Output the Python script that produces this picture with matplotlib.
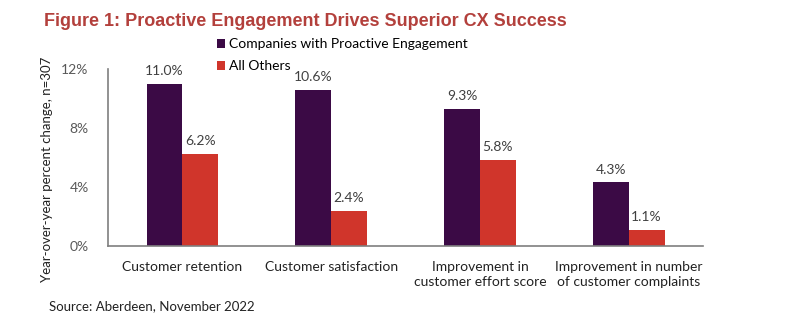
import numpy as np
import matplotlib
matplotlib.use("Agg")
import matplotlib.pyplot as plt

categories = ["Customer retention", "Customer satisfaction",
              "Improvement in\ncustomer effort score",
              "Improvement in number\nof customer complaints"]
proactive = [11.0, 10.6, 9.3, 4.3]
others = [6.2, 2.4, 5.8, 1.1]
series_names = ["Companies with Proactive Engagement", "All Others"]
yticks = [0, 4, 8, 12]

PURPLE = "#3b0a45"
RED = "#d0352b"
GREY = "#595959"

plt.rcParams['font.family'] = ['Lato', 'DejaVu Sans']

fig = plt.figure(figsize=(8, 3.31), dpi=100)
ax = fig.add_axes([0.135, 0.257, 0.744, 0.535])

x = np.arange(len(categories))
w = 0.24
b1 = ax.bar(x - w / 2, proactive, w, color=PURPLE, label=series_names[0])
b2 = ax.bar(x + w / 2, others, w, color=RED, label=series_names[1])

for bars, vals in ((b1, proactive), (b2, others)):
    for r, v in zip(bars, vals):
        ax.annotate(f"{v:.1f}%", (r.get_x() + r.get_width() / 2, v),
                    xytext=(0, 5), textcoords="offset points",
                    ha="center", va="bottom", fontsize=10, color="#404040")

ax.set_xlim(-0.5, 3.5)
ax.set_ylim(0, 12)
ax.set_yticks(yticks)
ax.set_yticklabels([f"{t}%" for t in yticks], color=GREY, fontsize=10)
ax.set_xticks(x)
ax.set_xticklabels(categories, fontsize=10, color="#222222", linespacing=1.25)
ax.tick_params(axis="x", length=0, pad=11)
ax.tick_params(axis="y", length=0, pad=14)
for s in ("top", "right"):
    ax.spines[s].set_visible(False)
for s in ("left", "bottom"):
    ax.spines[s].set_color("#7f7f7f")
    ax.spines[s].set_linewidth(1.2)

ax.set_ylabel("Year-over-year percent change, n=307", fontsize=9.5,
              color="#222222")
ax.yaxis.set_label_coords(-0.092, 0.43)

leg = fig.legend(handles=[b1, b2], loc="upper left",
                 bbox_to_anchor=(0.262, 0.905), frameon=False,
                 fontsize=10, handlelength=0.6, handleheight=0.6,
                 handletextpad=0.3, labelspacing=0.7, borderpad=0)

fig.text(0.055, 0.935, "Figure 1: Proactive Engagement Drives Superior CX Success",
         family="Liberation Sans", fontweight="bold", fontsize=13,
         color="#b3403c", ha="left", va="center")
fig.text(0.061, 0.075, "Source: Aberdeen, November 2022", fontsize=9.5,
         color="#222222", ha="left", va="center")

fig.savefig("out.png", dpi=100)
